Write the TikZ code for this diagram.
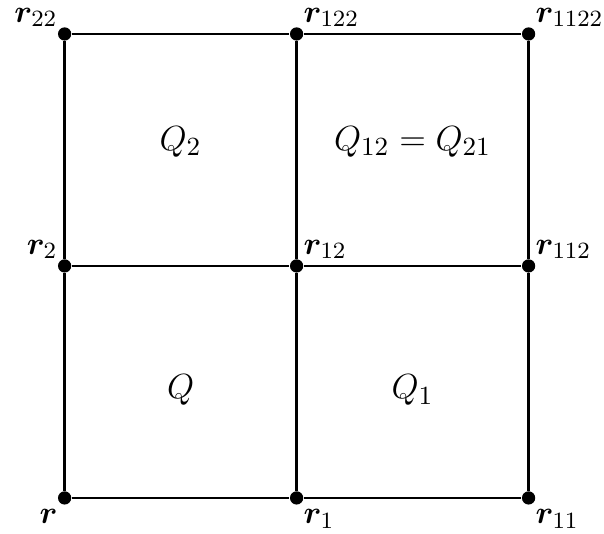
\documentclass[tikz,border=0pt]{standalone}
\usepackage{amsmath,amssymb,bm}
\usepackage{tikz}
\usetikzlibrary{positioning}

\begin{document}
\begin{tikzpicture}[
  node distance=0pt,
  dot/.style={circle,fill=black,inner sep=0pt,minimum size=0.16cm},
  edge/.style={line width=0.8pt},
  lab/.style={inner sep=0.5pt,font=\fontsize{11.2}{13}\selectfont},
  face/.style={font=\fontsize{12.8}{15}\selectfont}
]
\useasboundingbox (-0.78,-0.43) rectangle (6.51,6.01);

% Grid points
\node[dot] (r) at (0,0) {};
\node[dot] (r1) at (2.8,0) {};
\node[dot] (r11) at (5.6,0) {};
\node[dot] (r2) at (0,2.8) {};
\node[dot] (r12) at (2.8,2.8) {};
\node[dot] (r112) at (5.6,2.8) {};
\node[dot] (r22) at (0,5.6) {};
\node[dot] (r122) at (2.8,5.6) {};
\node[dot] (r1122) at (5.6,5.6) {};

% Point labels
\node[lab,below left=1.5pt and 0pt of r] (lr) {$\bm{r}$};
\node[lab,below right=1.5pt and 0pt of r1] (lr1) {$\bm{r}_1$};
\node[lab,below right=1.5pt and 0pt of r11] (lr11) {$\bm{r}_{11}$};
\node[lab,above left=of r2] (lr2) {$\bm{r}_2$};
\node[lab,above right=of r12] (lr12) {$\bm{r}_{12}$};
\node[lab,above right=of r112] (lr112) {$\bm{r}_{112}$};
\node[lab,above left=of r22] (lr22) {$\bm{r}_{22}$};
\node[lab,above right=of r122] (lr122) {$\bm{r}_{122}$};
\node[lab,above right=of r1122] (lr1122) {$\bm{r}_{1122}$};

% Faces
\node[face] (q) at (1.4,1.3) {$Q$};
\node[face] (q1) at (4.2,1.3) {$Q_1$};
\node[face] (q2) at (1.4,4.3) {$Q_2$};
\node[face] (q12) at (4.2,4.3) {$Q_{12}=Q_{21}$};

% Edges
\draw[edge] (r) -- (r1) -- (r11);
\draw[edge] (r2) -- (r12) -- (r112);
\draw[edge] (r22) -- (r122) -- (r1122);
\draw[edge] (r) -- (r2) -- (r22);
\draw[edge] (r1) -- (r12) -- (r122);
\draw[edge] (r11) -- (r112) -- (r1122);

\end{tikzpicture}
\end{document}
